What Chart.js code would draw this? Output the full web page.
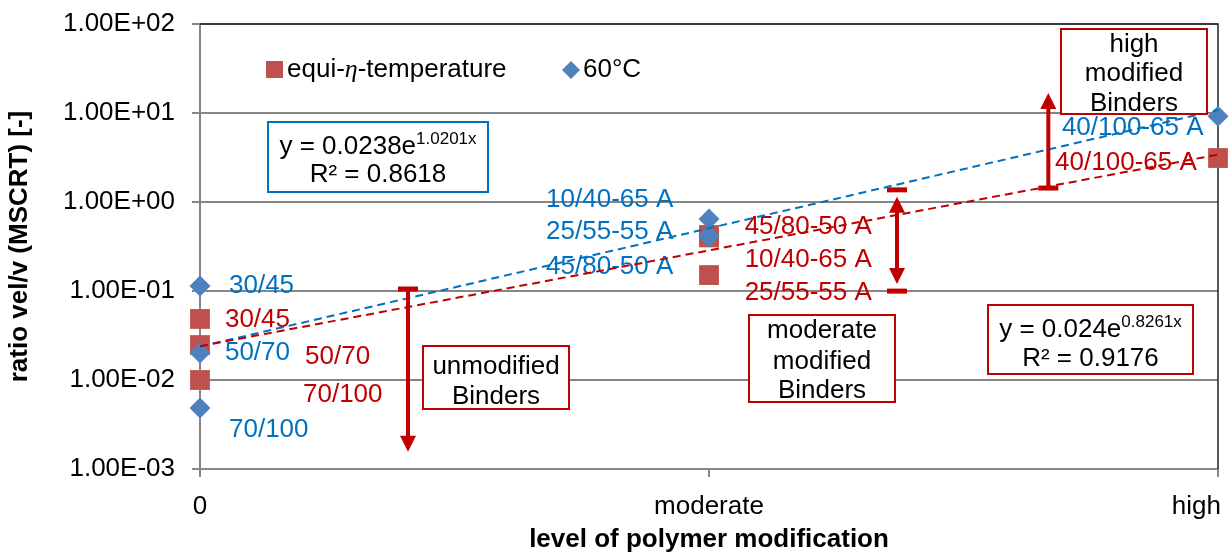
<!DOCTYPE html>
<html>
<head>
<meta charset="utf-8">
<script src="https://cdn.jsdelivr.net/npm/chart.js@4.4.1/dist/chart.umd.min.js"></script>
<style>
  html, body { margin: 0; padding: 0; background: #fff; }
  #wrap { width: 1232px; height: 553px; }
</style>
</head>
<body>
<div id="wrap"><canvas id="mscrtChart"></canvas></div>
<script>
// x = level of polymer modification (0 = unmodified, 3 = moderate, 6 = high)
const xEqui = [0, 0, 0, 3, 3, 3, 6];
const equiTemp = [0.0485, 0.0247, 0.0100, 0.426, 0.400, 0.151, 3.12];
const x60 = [0, 0, 0, 3, 3, 3, 6];
const temp60 = [0.114, 0.0201, 0.00485, 0.644, 0.420, 0.405, 9.2];

// exponential trend lines (straight on the log axis), values at both ends
const trendX = [0, 6];
const trendEqui = [0.024, 3.41];
const trend60 = [0.0238, 10.8];

const yTicks = [0.001, 0.01, 0.1, 1, 10, 100];
const xTickValues = [0, 3, 6];
const xTickLabels = ["0", "moderate", "high      "];

const RED = "#c00000";
const BLUE = "#0070c0";
const FONT = "'Liberation Sans', Arial, sans-serif";

// binder labels next to the points (x, y in data units)
const blueLabels = [
  { text: "30/45", x: 0.171, y: 0.114 },
  { text: "50/70", x: 0.147, y: 0.0201 },
  { text: "70/100", x: 0.171, y: 0.00274 },
  { text: "10/40-65 A", x: 2.04, y: 1.05 },
  { text: "25/55-55 A", x: 2.04, y: 0.46 },
  { text: "45/80-50 A", x: 2.04, y: 0.186 },
  { text: "40/100-65 A", x: 5.08, y: 6.8 },
];
const redLabels = [
  { text: "30/45", x: 0.147, y: 0.0472 },
  { text: "50/70", x: 0.619, y: 0.0181 },
  { text: "70/100", x: 0.607, y: 0.0068 },
  { text: "45/80-50 A", x: 3.21, y: 0.524 },
  { text: "10/40-65 A", x: 3.21, y: 0.223 },
  { text: "25/55-55 A", x: 3.21, y: 0.0949 },
  { text: "40/100-65 A", x: 5.04, y: 2.74 },
];

// range arrows: x, from (cap end), to, heads
const arrows = [
  { x: 1.226, from: 0.1, to: 0.00156, capFrom: true, capTo: false, headFrom: false, headTo: true },
  { x: 4.108, from: 1.30, to: 0.105, capFrom: true, capTo: true, headFrom: true, headTo: true },
  { x: 5.0, from: 1.51, to: 16.8, capFrom: true, capTo: false, headFrom: false, headTo: true },
];

// text boxes (pixel boxes), lines of rich text
const boxes = [
  { l: 268, t: 122, r: 488, b: 192, color: BLUE, lines: [
    { cy: 145, parts: [["y = 0.0238e", 26, 0], ["1.0201x", 17, 10]] },
    { cy: 173, parts: [["R² = 0.8618", 26, 0]] } ] },
  { l: 988, t: 305, r: 1193, b: 374, color: RED, lines: [
    { cy: 328, parts: [["y = 0.024e", 26, 0], ["0.8261x", 17, 10]] },
    { cy: 357, parts: [["R² = 0.9176", 26, 0]] } ] },
  { l: 423, t: 346, r: 569, b: 409, color: RED, lines: [
    { cy: 365, parts: [["unmodified", 26, 0]] },
    { cy: 395, parts: [["Binders", 26, 0]] } ] },
  { l: 749, t: 315, r: 895, b: 402, color: RED, lines: [
    { cy: 329, parts: [["moderate", 26, 0]] },
    { cy: 360, parts: [["modified", 26, 0]] },
    { cy: 389, parts: [["Binders", 26, 0]] } ] },
  { l: 1061, t: 29, r: 1207, b: 114, color: RED, lines: [
    { cy: 43, parts: [["high", 26, 0]] },
    { cy: 72, parts: [["modified", 26, 0]] },
    { cy: 102, parts: [["Binders", 26, 0]] } ] },
];

function fmtE(v) {
  const e = Math.round(Math.log10(v));
  const m = (v / Math.pow(10, e)).toFixed(2);
  return m + "E" + (e < 0 ? "-" : "+") + String(Math.abs(e)).padStart(2, "0");
}

function richLine(ctx, parts, cx, cy) {
  let total = 0;
  parts.forEach(p => { ctx.font = p[1] + "px " + FONT; total += ctx.measureText(p[0]).width; });
  let x = cx - total / 2;
  const base = cy + 9;
  ctx.textAlign = "left";
  ctx.textBaseline = "alphabetic";
  parts.forEach(p => {
    ctx.font = p[1] + "px " + FONT;
    ctx.fillText(p[0], x, base - p[2]);
    x += ctx.measureText(p[0]).width;
  });
}

const annotationPlugin = {
  id: "annotations",
  beforeDatasetsDraw(chart) {
    const { ctx, chartArea: a, scales } = chart;
    ctx.save();
    // plot frame (top and right)
    ctx.strokeStyle = "#222";
    ctx.lineWidth = 1.5;
    ctx.beginPath();
    ctx.moveTo(a.left, a.top);
    ctx.lineTo(a.right, a.top);
    ctx.lineTo(a.right, a.bottom);
    ctx.stroke();
    // binder labels
    ctx.font = "26px " + FONT;
    ctx.textAlign = "left";
    ctx.textBaseline = "middle";
    [[blueLabels, BLUE], [redLabels, RED]].forEach(([list, col]) => {
      ctx.fillStyle = col;
      list.forEach(l => ctx.fillText(l.text, scales.x.getPixelForValue(l.x), scales.y.getPixelForValue(l.y)));
    });
    ctx.restore();
  },
  afterDatasetsDraw(chart) {
    const { ctx, scales } = chart;
    ctx.save();
    // arrows
    ctx.strokeStyle = RED;
    ctx.fillStyle = RED;
    arrows.forEach(ar => {
      const x = scales.x.getPixelForValue(ar.x);
      const y1 = scales.y.getPixelForValue(ar.from);
      const y2 = scales.y.getPixelForValue(ar.to);
      const dir = y2 > y1 ? 1 : -1;
      const s1 = ar.headFrom ? y1 + dir * 5 : y1;
      const s2 = ar.headTo ? (ar.capTo ? y2 - dir * 5 : y2) : y2;
      ctx.lineWidth = 4;
      ctx.beginPath();
      ctx.moveTo(x, s1 + (ar.headFrom ? dir * 12 : 0));
      ctx.lineTo(x, s2 - (ar.headTo ? dir * 12 : 0));
      ctx.stroke();
      const head = (tipY, d) => {
        ctx.beginPath();
        ctx.moveTo(x, tipY);
        ctx.lineTo(x - 8, tipY - d * 16);
        ctx.lineTo(x + 8, tipY - d * 16);
        ctx.closePath();
        ctx.fill();
      };
      if (ar.headFrom) head(s1, -dir);
      if (ar.headTo) head(s2, dir);
      ctx.lineWidth = 5;
      const cap = y => { ctx.beginPath(); ctx.moveTo(x - 10, y); ctx.lineTo(x + 10, y); ctx.stroke(); };
      if (ar.capFrom) cap(y1 - dir * 2);
      if (ar.capTo) cap(y2 + dir * 2);
    });
    // text boxes
    boxes.forEach(bx => {
      ctx.fillStyle = "#fff";
      ctx.fillRect(bx.l, bx.t, bx.r - bx.l, bx.b - bx.t);
      ctx.strokeStyle = bx.color;
      ctx.lineWidth = 2;
      ctx.strokeRect(bx.l, bx.t, bx.r - bx.l, bx.b - bx.t);
      ctx.fillStyle = "#000";
      bx.lines.forEach(ln => richLine(ctx, ln.parts, (bx.l + bx.r) / 2, ln.cy));
    });
    // legend
    ctx.fillStyle = "#c0504d";
    ctx.fillRect(266, 61, 17, 17);
    ctx.fillStyle = "#000";
    ctx.textAlign = "left";
    ctx.textBaseline = "middle";
    let lx = 287;
    ctx.font = "26px " + FONT;
    ctx.fillText("equi-", lx, 70);
    lx += ctx.measureText("equi-").width;
    ctx.font = "italic 26px 'Liberation Serif', serif";
    ctx.fillText("η", lx, 70);
    lx += ctx.measureText("η").width;
    ctx.font = "26px " + FONT;
    ctx.fillText("-temperature", lx, 70);
    ctx.fillStyle = "#4f81bd";
    ctx.beginPath();
    ctx.moveTo(571, 61); ctx.lineTo(580, 70); ctx.lineTo(571, 79); ctx.lineTo(562, 70);
    ctx.closePath();
    ctx.fill();
    ctx.fillStyle = "#000";
    ctx.fillText("60°C", 583, 70);
    ctx.restore();
  }
};

const pts = (xs, ys) => xs.map((x, i) => ({ x: x, y: ys[i] }));

Chart.defaults.font.family = FONT;
Chart.defaults.color = "#000";

new Chart(document.getElementById("mscrtChart"), {
  type: "scatter",
  data: {
    datasets: [
      { label: "trend equi", data: pts(trendX, trendEqui), showLine: true, borderColor: RED,
        borderWidth: 2, borderDash: [8, 5], pointRadius: 0, order: 0, clip: false },
      { label: "trend 60", data: pts(trendX, trend60), showLine: true, borderColor: BLUE,
        borderWidth: 2, borderDash: [8, 5], pointRadius: 0, order: 0, clip: false },
      { label: "60°C", data: pts(x60, temp60), pointStyle: "rectRot", pointRadius: 10.5,
        backgroundColor: "#4f81bd", borderWidth: 0, order: 1, clip: false },
      { label: "equi-η-temperature", data: pts(xEqui, equiTemp), pointStyle: "rect", pointRadius: 14,
        backgroundColor: "#c0504d", borderWidth: 0, order: 2, clip: false },
    ],
  },
  options: {
    responsive: true,
    maintainAspectRatio: false,
    animation: false,
    layout: { padding: { top: 24, right: 14, left: 0, bottom: 0 } },
    plugins: { legend: { display: false }, tooltip: { enabled: false } },
    scales: {
      x: {
        type: "linear",
        min: 0,
        max: 6,
        afterBuildTicks: s => { s.ticks = xTickValues.map(v => ({ value: v })); },
        afterFit: s => { s.height = 84; s.paddingLeft = 0; s.paddingRight = 0; },
        grid: { drawOnChartArea: false, drawTicks: true, tickLength: 8, color: "#868686", lineWidth: 2 },
        border: { color: "#868686", width: 2 },
        ticks: {
          font: { size: 26 },
          padding: 14,
          maxRotation: 0,
          autoSkip: false,
          callback: v => xTickLabels[xTickValues.indexOf(v)],
        },
        title: {
          display: true,
          text: "level of polymer modification",
          font: { size: 26, weight: "bold", lineHeight: 1 },
          padding: { top: 0, bottom: 0 },
        },
      },
      y: {
        type: "logarithmic",
        min: 0.001,
        max: 100,
        afterBuildTicks: s => { s.ticks = yTicks.map(v => ({ value: v })); },
        afterFit: s => { s.width = 200; s.paddingTop = 0; s.paddingBottom = 0; },
        grid: { color: "#868686", lineWidth: 2, tickLength: 8 },
        border: { color: "#868686", width: 2 },
        ticks: { font: { size: 26 }, padding: 17, callback: v => fmtE(v) },
        title: {
          display: true,
          text: "ratio vel/v (MSCRT) [-]",
          font: { size: 26, weight: "bold", lineHeight: 1 },
          padding: { top: 7, bottom: 0 },
        },
      },
    },
  },
  plugins: [annotationPlugin],
});
</script>
</body>
</html>
